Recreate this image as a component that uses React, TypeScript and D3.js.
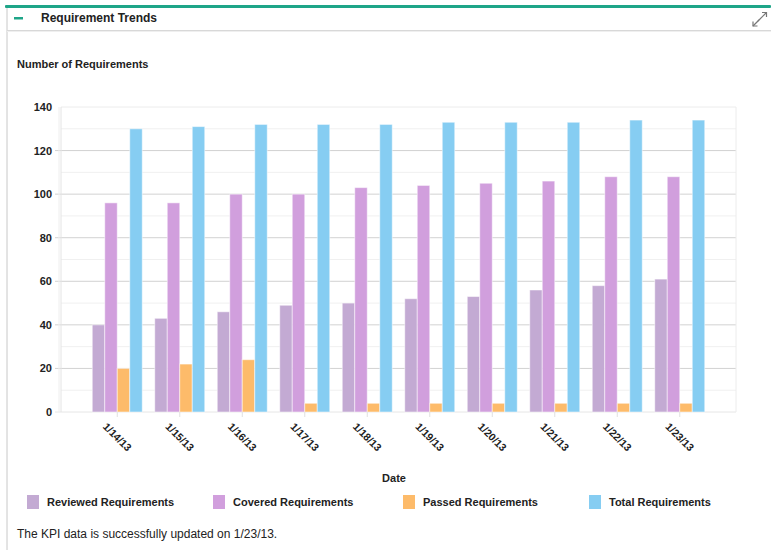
import React from "react";
import * as d3 from "d3";

const dates = ["1/14/13", "1/15/13", "1/16/13", "1/17/13", "1/18/13", "1/19/13", "1/20/13", "1/21/13", "1/22/13", "1/23/13"];
const seriesNames = ["Reviewed Requirements", "Covered Requirements", "Passed Requirements", "Total Requirements"];
const reviewed = [40, 43, 46, 49, 50, 52, 53, 56, 58, 61];
const covered = [96, 96, 100, 100, 103, 104, 105, 106, 108, 108];
const passed = [20, 22, 24, 4, 4, 4, 4, 4, 4, 4];
const total = [130, 131, 132, 132, 132, 133, 133, 133, 134, 134];
const yTicks = [0, 20, 40, 60, 80, 100, 120, 140];
const minorTicks = [10, 30, 50, 70, 90, 110, 130];
const colors = ["#c3aad3", "#d19fdd", "#fdbb6a", "#86cdf2"];
const legendX = [27, 213, 403, 589];

const FONT = "'Liberation Sans', Arial, Helvetica, sans-serif";

export default function App() {
  const W = 771, H = 550;
  const plotL = 61, plotR = 736, plotT = 107, plotB = 412;
  const seriesData = [reviewed, covered, passed, total];

  const x0 = d3.scaleBand<string>().domain(dates).range([plotL + 25, plotR - 25]).paddingInner(0.2).paddingOuter(0.1);
  const x1 = d3.scaleBand<string>().domain(seriesNames).range([0, x0.bandwidth()]);
  const y = d3.scaleLinear().domain([0, 140]).range([plotB, plotT]);

  return (
    <svg width={W} height={H} style={{ position: "absolute", left: 0, top: 0, background: "#fff" }} fontFamily={FONT}>
      {/* panel */}
      <rect x={0} y={0} width={W} height={H} fill="#fff" />
      <line x1={7} y1={6} x2={7} y2={H} stroke="#c8c8c8" strokeWidth={1} />
      <rect x={5} y={5} width={W - 5} height={3} fill="#1ea588" rx={1} />
      <line x1={7} y1={30.5} x2={W} y2={30.5} stroke="#d8d8d8" strokeWidth={1} />
      <line x1={7} y1={31.5} x2={W} y2={31.5} stroke="#efefef" strokeWidth={1} />
      <rect x={14} y={17} width={9} height={2.5} fill="#1ea588" />
      <text x={41} y={22} fontSize={12} fontWeight="bold" fill="#222">Requirement Trends</text>
      {/* expand icon */}
      <g stroke="#777" strokeWidth={1.2} fill="none">
        <path d="M758 21 L766 13" />
        <path d="M762 12.5 L766.5 12.5 L766.5 17" />
        <path d="M753 26 L759 20" />
        <path d="M753 21.5 L753 26 L757.5 26" />
      </g>

      <text x={17} y={68} fontSize={11} fontWeight="bold" fill="#222">Number of Requirements</text>

      {/* minor grid */}
      {minorTicks.map((t) => (
        <line key={"m" + t} x1={plotL} x2={plotR} y1={y(t)} y2={y(t)} stroke="#f0f0f0" />
      ))}
      {/* major grid */}
      {yTicks.map((t) => (
        <line key={"g" + t} x1={t === 140 ? plotL : 55} x2={plotR} y1={y(t)} y2={y(t)}
          stroke={t === 140 ? "#ececec" : t === 0 ? "#e6e6e6" : "#d2d2d2"} />
      ))}
      <line x1={plotL - 2} x2={plotL - 2} y1={plotT} y2={plotB} stroke="#eeeeee" />
      <line x1={plotL} x2={plotL} y1={plotT} y2={plotB} stroke="#e4e4e4" />
      <line x1={plotR} x2={plotR} y1={plotT} y2={plotB} stroke="#ececec" />
      {yTicks.map((t) => (
        <text key={"yl" + t} x={52} y={y(t) + 4} fontSize={11} fontWeight="bold" textAnchor="end" fill="#222">{t}</text>
      ))}

      {/* bars */}
      {dates.map((d, i) => (
        <g key={d} transform={`translate(${x0(d)},0)`}>
          {seriesNames.map((s, j) => (
            <rect key={s} x={x1(s)!} y={y(seriesData[j][i])} width={x1.bandwidth()} height={plotB - y(seriesData[j][i])}
              fill={colors[j]} stroke="#ffffff" strokeOpacity={0.5} strokeWidth={1} />
          ))}
        </g>
      ))}

      {/* x ticks and labels */}
      {dates.map((d) => {
        const cx = x0(d)! + x0.bandwidth() / 2;
        return (
          <g key={"xt" + d}>
            <line x1={cx} x2={cx} y1={plotB} y2={plotB + 5} stroke="#e0e0e0" />
            <text transform={`translate(${cx},${plotB + 25}) rotate(45)`} fontSize={10.5} fontWeight="bold"
              textAnchor="middle" dy="0.35em" fill="#222">{d}</text>
          </g>
        );
      })}
      <text x={394} y={482} fontSize={11} fontWeight="bold" textAnchor="middle" fill="#222">Date</text>

      {/* legend */}
      {seriesNames.map((s, j) => {
        const lx = legendX[j];
        return (
          <g key={"lg" + s}>
            <rect x={lx} y={495} width={12} height={14} fill={colors[j]} />
            <text x={lx + 20} y={506} fontSize={11} fontWeight="bold" fill="#222">{s}</text>
          </g>
        );
      })}

      <text x={17} y={538} fontSize={12} fill="#222">The KPI data is successfully updated on 1/23/13.</text>
    </svg>
  );
}
